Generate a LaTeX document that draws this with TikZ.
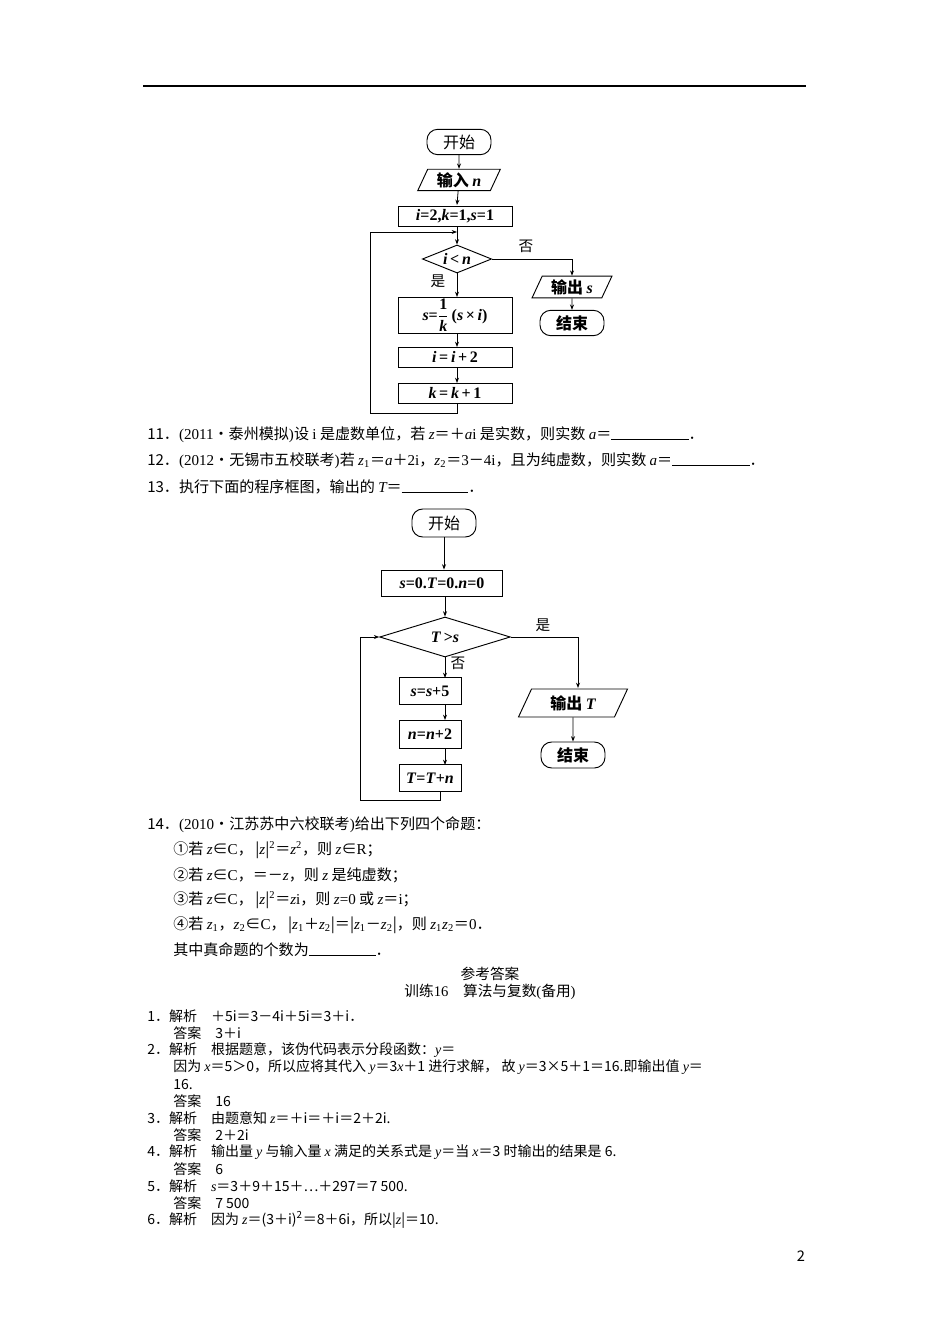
\documentclass[tikz,border=0pt]{standalone}
\usepackage{amsmath}
\usepackage{fontspec}
\setmainfont{Noto Sans CJK SC}
\newfontfamily\lser{Liberation Serif}
\usetikzlibrary{shapes.geometric,arrows.meta}
\newcommand{\vi}[1]{{\lser\itshape #1}}
\newcommand{\bv}[1]{{\lser\bfseries\itshape #1}}
\newcommand{\rmx}[1]{{\lser #1}}
\begin{document}
\begin{tikzpicture}[x=0.75pt,y=-0.75pt,
 box/.style={draw,line width=0.7pt,minimum height=#1*0.75pt,inner sep=1pt,font=\fontsize{12}{13}\selectfont},
 box/.default=20,
 term/.style={draw,line width=0.7pt,rounded corners=8pt,minimum width=48pt,minimum height=19pt,font=\fontsize{12}{13}\selectfont},
 io/.style={draw,line width=0.7pt,trapezium,trapezium left angle=65,trapezium right angle=115,minimum height=15pt,inner xsep=3pt,inner ysep=1pt,font=\fontsize{12}{13}\selectfont},
 dia/.style={draw,line width=0.7pt,diamond,aspect=2.5,inner sep=0pt,font=\fontsize{12}{13}\selectfont},
 ar/.style={-{Stealth[length=4pt,width=3pt]},line width=0.6pt},
 ln/.style={line width=0.6pt},
 txt/.style={anchor=west,inner sep=0pt,font=\fontsize{11.3}{12}\selectfont},
 atxt/.style={anchor=west,inner sep=0pt,font=\fontsize{10.5}{12}\selectfont},
 lab/.style={inner sep=0pt,font=\fontsize{11}{12}\selectfont}]
\useasboundingbox[fill=white] (0,0) rectangle (950,1344);
\draw[line width=0.8pt] (143,86) -- (806,86);
% flowchart 1
\node[term,minimum width=48pt] (s1) at (459,142) {开始};
\node[io,minimum width=62pt] (in1) at (459,180) {\textbf{输入} \bv{n}};
\node[box,minimum width=85.5pt] (init1) at (455,216) {\bv{i}\rmx{\textbf{=2,}}\bv{k}\rmx{\textbf{=1,}}\bv{s}\rmx{\textbf{=1}}};
\node[dia,minimum width=52pt,minimum height=21pt] (d1) at (457,259) {\bv{i}\rmx{\textbf{\,<\,}}\bv{n}};
\node[box=36,minimum width=85.5pt] (b1) at (455,315) {\bv{s}\rmx{\textbf{=}}$\displaystyle\frac{\text{\rmx{\textbf{1}}}}{\text{\bv{k}}}$\,\rmx{\textbf{(}}\bv{s}\rmx{\textbf{\,×\,}}\bv{i}\rmx{\textbf{)}}};
\node[box,minimum width=85.5pt] (b2) at (455,357) {\bv{i}\rmx{\textbf{\,=\,}}\bv{i}\rmx{\textbf{\,+\,2}}};
\node[box,minimum width=85.5pt] (b3) at (455,393) {\bv{k}\rmx{\textbf{\,=\,}}\bv{k}\rmx{\textbf{\,+\,1}}};
\node[io,minimum width=60pt] (out1) at (572,287) {\textbf{输出} \bv{s}};
\node[term] (e1) at (572,323) {\textbf{结束}};
\coordinate (j1) at (457,232);
\draw[ar] (s1) -- (in1);
\draw[ar] (in1) -- (457,205);
\draw[ar] (457,227) -- (d1.north);
\draw[ar] (d1.south) -- (457,297);
\draw[ar] (457,333) -- (457,347);
\draw[ar] (457,367) -- (457,383);
\draw[ln] (457,403) -- (457,413) -- (370,413) -- (370,232);
\draw[ar] (370,232) -- (j1);
\draw[ar] (d1.east) -| (out1.north);
\draw[ar] (out1) -- (e1);
\node[lab] at (526,246) {否};
\node[lab] at (438,281) {是};
% text
\node[txt] (t11) at (147,435) {11．\rmx{(2011}·泰州模拟\rmx{)}设 \rmx{i} 是虚数单位，若 \vi{z}＝＋\vi{a}\rmx{i} 是实数，则实数 \vi{a}＝\rule{58pt}{0.4pt}．};
\node[txt] (t12) at (147,461) {12．\rmx{(2012}·无锡市五校联考\rmx{)}若 \vi{z}\rmx{\textsubscript{1}}＝\vi{a}＋\rmx{2i}，\vi{z}\rmx{\textsubscript{2}}＝\rmx{3}－\rmx{4i}，且为纯虚数，则实数 \vi{a}＝\rule{58pt}{0.4pt}．};
\node[txt] (t13) at (147,487) {13．执行下面的程序框图，输出的 \vi{T}＝\rule{50pt}{0.4pt}．};
% flowchart 2
\node[term,minimum height=21pt] (s2) at (444,523) {开始};
\node[box=26,minimum width=91pt] (init2) at (442,583) {\bv{s}\rmx{\textbf{=0.}}\bv{T}\rmx{\textbf{=0.}}\bv{n}\rmx{\textbf{=0}}};
\node[dia,minimum width=98pt,minimum height=30pt] (d2) at (445,637) {\bv{T}\rmx{\textbf{\,>}}\bv{s}};
\node[box=27,minimum width=46.5pt] (c1) at (430,691) {\bv{s}\rmx{\textbf{=}}\bv{s}\rmx{\textbf{+5}}};
\node[box=28,minimum width=46.5pt] (c2) at (430,734) {\bv{n}\rmx{\textbf{=}}\bv{n}\rmx{\textbf{+2}}};
\node[box=27,minimum width=46.5pt] (c3) at (430,778) {\bv{T}\rmx{\textbf{=}}\bv{T}\rmx{\textbf{+}}\bv{n}};
\node[io,minimum width=70pt,minimum height=21pt] (out2) at (573,703) {\textbf{输出} \bv{T}};
\node[term,minimum height=19.5pt] (e2) at (573,755) {\textbf{结束}};
\draw[ar] (s2) -- (s2|-init2.north);
\draw[ar] (init2.south-|d2) -- (d2.north);
\draw[ar] (d2.south) -- (445,678);
\draw[ar] (445,705) -- (445,720);
\draw[ar] (445,748) -- (445,765);
\draw[ln] (440,792) -- (440,800) -- (360,800) -- (360,637);
\draw[ar] (360,637) -- (d2.west);
\draw[ar] (d2.east) -| (578,688);
\draw[ar] (out2) -- (e2);
\node[lab] at (543,625) {是};
\node[lab] at (458,663) {否};
% Q14
\node[txt] (t14) at (147,825) {14．\rmx{(2010}·江苏苏中六校联考\rmx{)}给出下列四个命题：};
\node[txt] (p1) at (173,850) {①若 \vi{z}∈\rmx{C}，\,|\vi{z}|\rmx{\textsuperscript{2}}＝\vi{z}\rmx{\textsuperscript{2}}，则 \vi{z}∈\rmx{R}；};
\node[txt] (p2) at (173,875) {②若 \vi{z}∈\rmx{C}，＝－\vi{z}，则 \vi{z} 是纯虚数；};
\node[txt] (p3) at (173,900) {③若 \vi{z}∈\rmx{C}，\,|\vi{z}|\rmx{\textsuperscript{2}}＝\vi{z}\rmx{i}，则 \vi{z}\rmx{=0} 或 \vi{z}＝\rmx{i}；};
\node[txt] (p4) at (173,925) {④若 \vi{z}\rmx{\textsubscript{1}}，\vi{z}\rmx{\textsubscript{2}}∈\rmx{C}，\,|\vi{z}\rmx{\textsubscript{1}}＋\vi{z}\rmx{\textsubscript{2}}|＝|\vi{z}\rmx{\textsubscript{1}}－\vi{z}\rmx{\textsubscript{2}}|，则 \vi{z}\rmx{\textsubscript{1}}\vi{z}\rmx{\textsubscript{2}}＝\rmx{0}．};
\node[txt] (p5) at (173,950) {其中真命题的个数为\rule{50pt}{0.4pt}．};
% answers
\node[lab] (h1) at (490,974) {参考答案};
\node[lab] (h2) at (490,992) {训练\rmx{16}\quad 算法与复数\rmx{(}备用\rmx{)}};
\node[atxt] at (147,1016) {1．解析\quad ＋5i＝3－4i＋5i＝3＋i．};
\node[atxt] at (173,1033) {答案\quad 3＋i};
\node[atxt] at (147,1050) {2．解析\quad 根据题意，该伪代码表示分段函数：\vi{y}＝};
\node[atxt] at (173,1067) {因为 \vi{x}＝5＞0，所以应将其代入 \vi{y}＝3\vi{x}＋1 进行求解，\ 故 \vi{y}＝3×5＋1＝16.即输出值 \vi{y}＝};
\node[atxt] at (173,1084) {16.};
\node[atxt] at (173,1101) {答案\quad 16};
\node[atxt] at (147,1118) {3．解析\quad 由题意知 \vi{z}＝＋i＝＋i＝2＋2i.};
\node[atxt] at (173,1135) {答案\quad 2＋2i};
\node[atxt] at (147,1152) {4．解析\quad 输出量 \vi{y} 与输入量 \vi{x} 满足的关系式是 \vi{y}＝当 \vi{x}＝3 时输出的结果是 6.};
\node[atxt] at (173,1169) {答案\quad 6};
\node[atxt] at (147,1186) {5．解析\quad \vi{s}＝3＋9＋15＋…＋297＝7 500.};
\node[atxt] at (173,1203) {答案\quad 7 500};
\node[atxt] at (147,1220) {6．解析\quad 因为 \vi{z}＝(3＋i)\textsuperscript{2}＝8＋6i，所以|\vi{z}|＝10.};
\node[lab] (pg) at (801,1256) {2};
\end{tikzpicture}
\end{document}
